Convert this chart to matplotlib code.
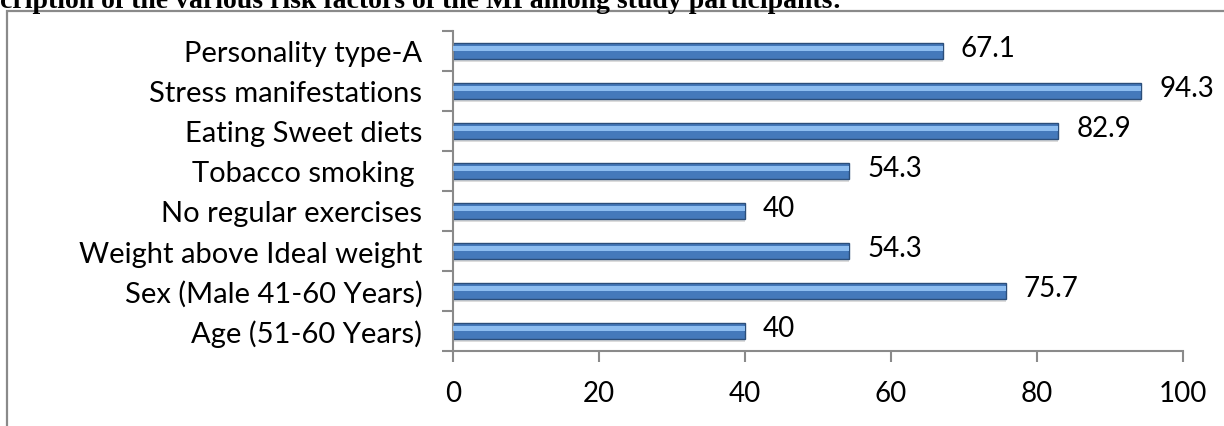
import matplotlib.pyplot as plt
from matplotlib.patches import Rectangle

# risk factors, top to bottom as in the reference
factors = [
    "Personality type-A",
    "Stress manifestations",
    "Eating Sweet diets",
    "Tobacco smoking ",
    "No regular exercises",
    "Weight above Ideal weight",
    "Sex (Male 41-60 Years)",
    "Age (51-60 Years)",
]
percent = [67.1, 94.3, 82.9, 54.3, 40, 54.3, 75.7, 40]
value_labels = ["67.1", "94.3", "82.9", "54.3", "40", "54.3", "75.7", "40"]
x_ticks = [0, 20, 40, 60, 80, 100]

title = "cription of the various risk factors of the MI among study participants:"

plt.rcParams['font.family'] = ['Lato', 'DejaVu Sans']

fig = plt.figure(figsize=(12.24, 4.27), dpi=100)
fig.patch.set_facecolor('white')

# document text cut off at the top
fig.text(0.0, 1 - 8 / 427, title, family='Liberation Serif', fontweight='bold',
         fontsize=20, ha='left', va='baseline', color='black')

# chart area border (runs off the right and bottom of the crop)
fig.patches.append(Rectangle((7 / 1224, -0.1), 1.2, 1 - 12 / 427 + 0.1,
                             transform=fig.transFigure, fill=False,
                             edgecolor='#8a8a8a', linewidth=1.6))

ax = fig.add_axes([453 / 1224, 1 - 352 / 427, 730 / 1224, 320 / 427])

n = len(factors)
ypos = list(range(n - 1, -1, -1))

# shadow, body, highlight to mimic the bevelled Excel bars
ax.barh([y - 0.07 for y in ypos], percent, height=0.4, color='#dcdcdc', zorder=1)
ax.barh(ypos, percent, height=0.4, color='#4479bb', edgecolor='#2b4e7a',
        linewidth=1.0, zorder=2)
ax.barh([y + 0.06 for y in ypos], percent, height=0.12, color='#8dbdf0',
        linewidth=0, zorder=3)

for y, v, lab in zip(ypos, percent, value_labels):
    ax.annotate(lab, (v, y), xytext=(13, 2), textcoords='offset points',
                ha='left', va='center', fontsize=20, color='black')

ax.set_xlim(0, 100)
ax.set_ylim(-0.5, n - 0.5)

ax.set_xticks(x_ticks)
ax.set_xticklabels([str(t) for t in x_ticks])
ax.set_yticks([i - 0.5 for i in range(n + 1)])
ax.set_yticklabels([])
ax.set_yticks(ypos, minor=True)
ax.set_yticklabels(factors, minor=True)

ax.tick_params(axis='both', which='major', direction='out', length=8,
               width=1.5, color='#8a8a8a', labelsize=20, labelcolor='black')
ax.tick_params(axis='x', pad=13)
ax.tick_params(axis='y', which='minor', length=0, pad=22, labelsize=21)

for side in ('top', 'right'):
    ax.spines[side].set_visible(False)
for side in ('left', 'bottom'):
    ax.spines[side].set_color('#8a8a8a')
    ax.spines[side].set_linewidth(1.5)

fig.savefig('out.png', dpi=100, facecolor='white')
